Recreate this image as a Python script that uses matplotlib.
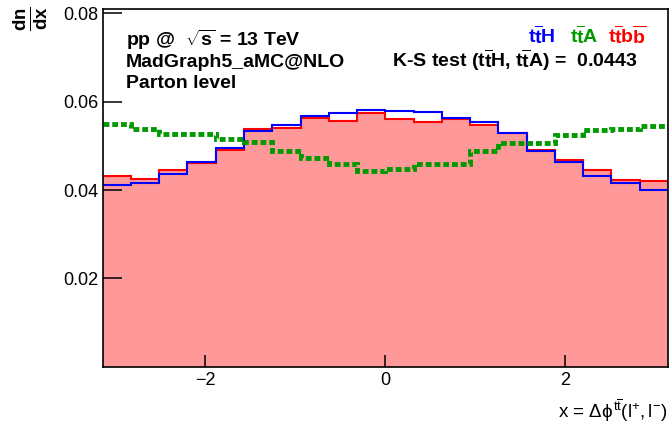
import numpy as np
import matplotlib
matplotlib.use('Agg')
from matplotlib import pyplot as plt

plt.rcParams['font.family'] = 'Liberation Sans'
plt.rcParams['mathtext.fontset'] = 'custom'
plt.rcParams['mathtext.rm'] = 'Liberation Sans'
plt.rcParams['mathtext.it'] = 'Liberation Sans'
plt.rcParams['mathtext.bf'] = 'Liberation Sans:bold'

# 20 bins over [-pi, pi]
edges = np.linspace(-np.pi, np.pi, 21)

tth = [0.0412, 0.04152, 0.04362, 0.04634, 0.04958, 0.05336, 0.05472, 0.05683, 0.05737, 0.05812,
       0.05796, 0.05773, 0.05637, 0.0554, 0.05291, 0.0489, 0.04634, 0.04324, 0.04159, 0.0400]
tta = [0.05506, 0.05393, 0.05268, 0.0528, 0.05148, 0.05094, 0.04883, 0.04725, 0.04584, 0.04442,
       0.04487, 0.04582, 0.04596, 0.04883, 0.05058, 0.05058, 0.05257, 0.05359, 0.05375, 0.05461]
ttbb = [0.04317, 0.04256, 0.04453, 0.04605, 0.04906, 0.05375, 0.05398, 0.05624, 0.05563, 0.05737,
        0.05608, 0.05547, 0.05601, 0.05472, 0.05284, 0.04906, 0.04686, 0.04453, 0.04227, 0.04204]
ks_value = 0.0443

ttbar = r'$\mathbf{t\overline{t}}$'

fig = plt.figure(figsize=(6.72, 4.26), dpi=100)
ax = fig.add_axes([0.1528, 0.1392, 0.9940 - 0.1528, 0.9777 - 0.1392])

ax.stairs(ttbb, edges, fill=True, color='#ff9999', lw=0)
ax.stairs(ttbb, edges, baseline=None, color='#ff0000', lw=1.5)
ax.stairs(tth, edges, baseline=None, color='#0000ff', lw=1.5)
ax.stairs(tta, edges, baseline=None, color='#009900', lw=3.5,
          linestyle=(0, (1.2, 0.6)))

ax.set_xlim(-np.pi, np.pi)
ax.set_ylim(0, 0.0809)
ax.set_xticks([-2, 0, 2])
ax.set_yticks([0.02, 0.04, 0.06, 0.08])
ax.set_yticklabels(['0.02', '0.04', '0.06', '0.08'])
ax.tick_params(axis='y', direction='in', length=13.5, width=1.1, labelsize=13, pad=3)
ax.tick_params(axis='x', direction='in', length=8.5, width=1.1, labelsize=13, pad=4)
for s in ax.spines.values():
    s.set_linewidth(1.2)

ax.set_xlabel(r'x = $\Delta\phi^{\mathrm{t}\overline{\mathrm{t}}}(\mathrm{l}^{+},\mathrm{l}^{-})$',
              fontsize=13.5, loc='right', labelpad=6)
fig.text(0.045, 0.955, r'$\mathbf{\frac{dn}{dx}}$', rotation=90, fontsize=19,
         ha='center', va='center')

tkw = dict(transform=fig.transFigure, fontsize=14, fontweight='bold')
fig.text(126 / 672, 1 - 45.5 / 426, r'pp @  $\mathbf{\sqrt{s}}$ = 13 TeV', **tkw)
fig.text(126 / 672, 1 - 67 / 426, 'MadGraph5_aMC@NLO', **tkw)
fig.text(126 / 672, 1 - 88.5 / 426, 'Parton level', **tkw)

fig.text(392 / 672, 1 - 67 / 426,
         'K-S test (' + ttbar + 'H, ' + ttbar + 'A) =  ' + '{:.4f}'.format(ks_value), **tkw)
fig.text(528 / 672, 1 - 44 / 426, ttbar + 'H', color='#0000ff', **tkw)
fig.text(570 / 672, 1 - 44 / 426, ttbar + 'A', color='#009900', **tkw)
fig.text(608 / 672, 1 - 44 / 426, r'$\mathbf{t\overline{t}b\overline{b}}$', color='#ff0000', **tkw)

fig.savefig('out.png', dpi=100)
